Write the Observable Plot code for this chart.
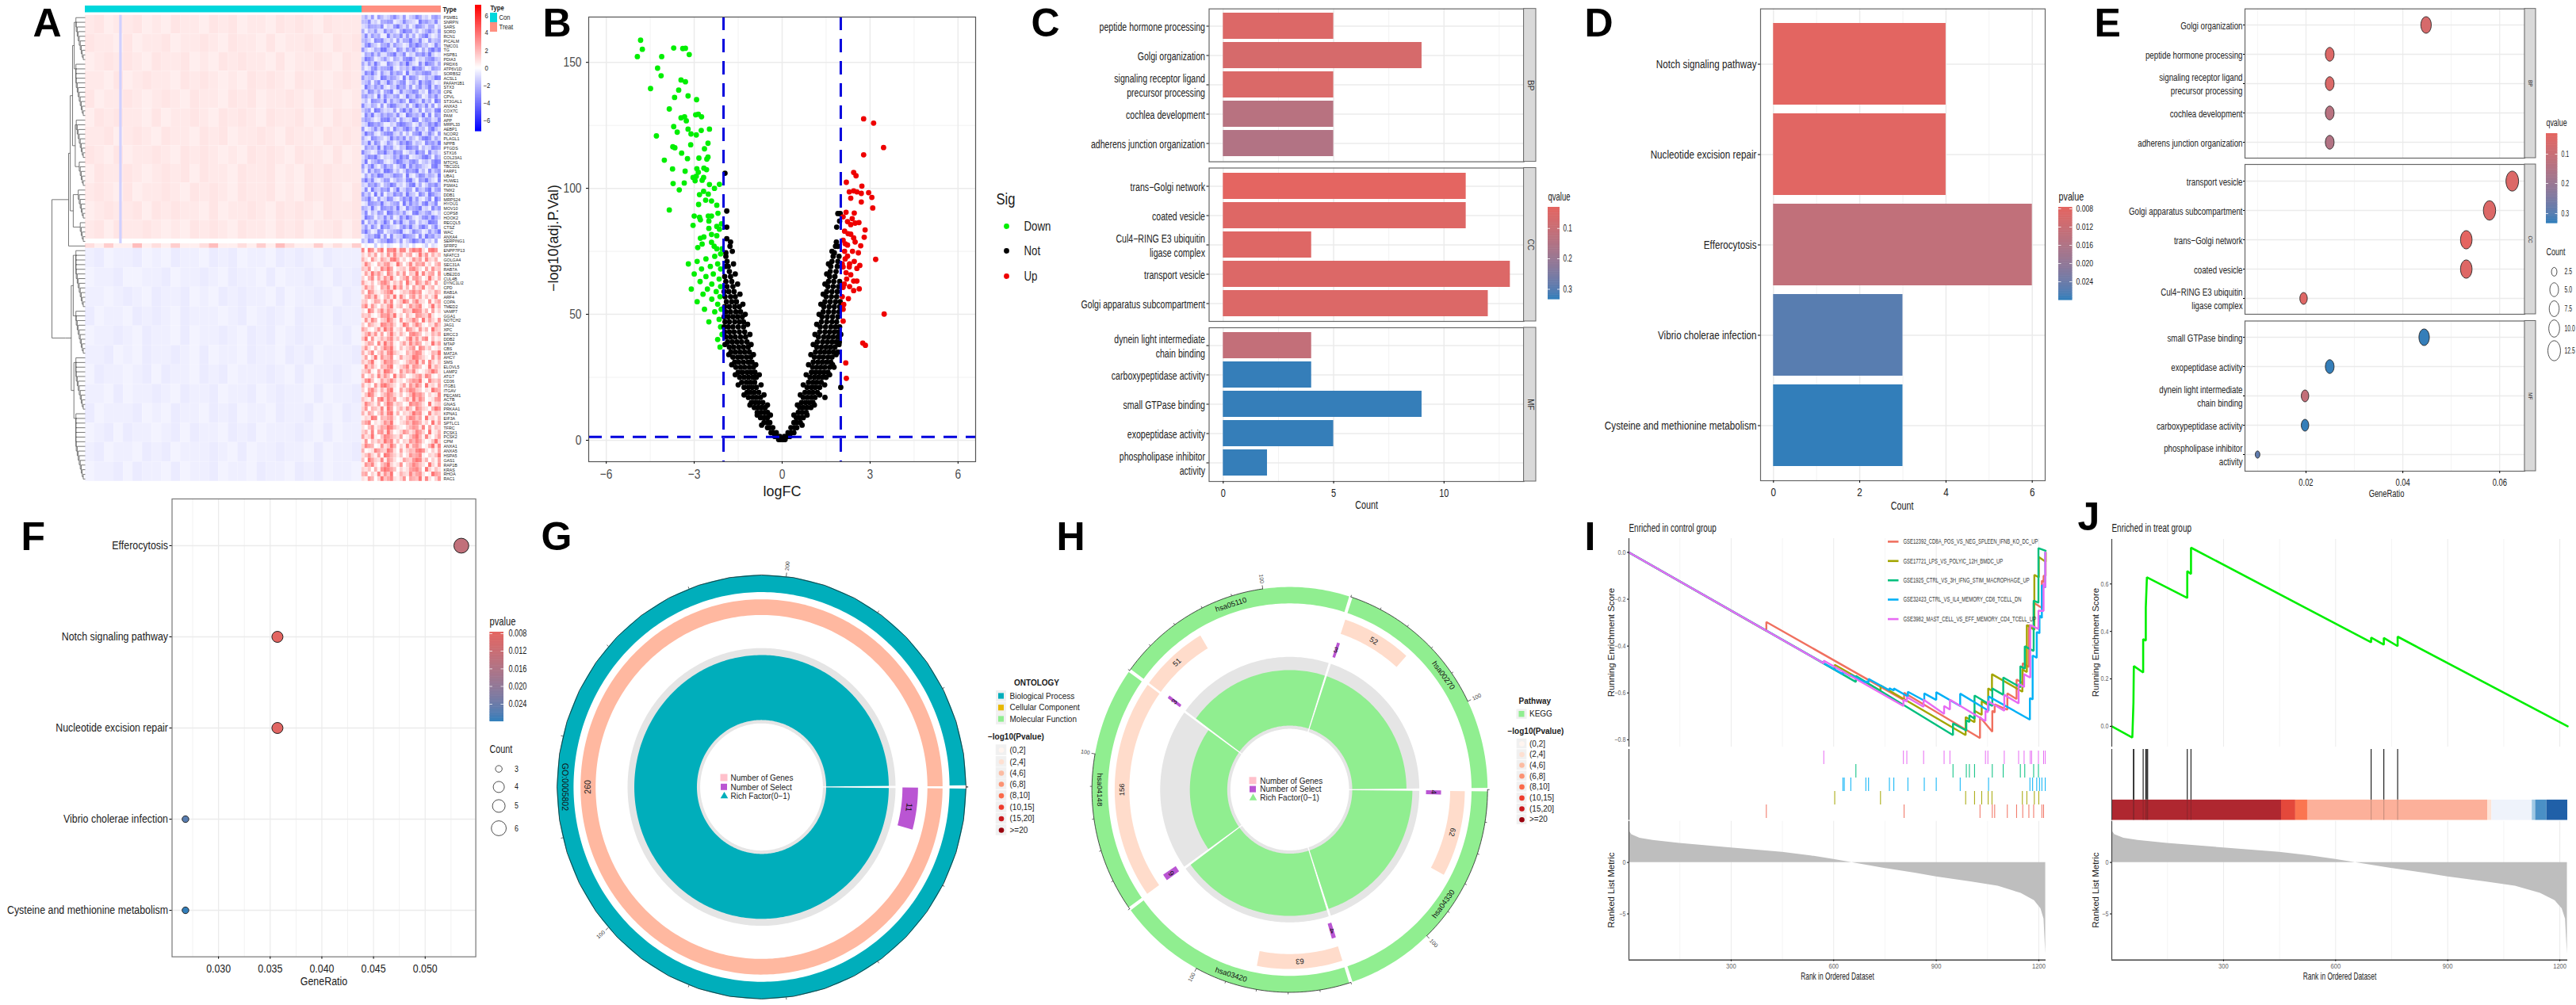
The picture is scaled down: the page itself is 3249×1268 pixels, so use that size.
<!DOCTYPE html>
<html><head><meta charset="utf-8">
<script src="https://cdn.jsdelivr.net/npm/d3@7"></script>
<script src="https://cdn.jsdelivr.net/npm/@observablehq/plot@0.6"></script>
<style>html,body{margin:0;background:#fff}#c{position:relative;width:3249px;height:1268px;overflow:hidden;background:#fff}#c svg{position:absolute;left:0;top:0}</style>
</head><body><div id="c"></div>
<script>
// ---------- DATA ----------
// NOTE: the first 50 gene labels were read (some uncertainly) from the picture; the last 49, after ENPP7P13, are
// illegible in the reference and are placeholder names, not readings.
const geneLabels=["PSMB1","SNRPN","SARS","SORD","RCN1","PICALM","TMCO1","TG","HSPB1","PDIA3","PRDX6","ATP6V1D","SORBS2","ACSL1","PAFAH1B1","STX3","CPE","CPVL","ST3GAL1","ANXA3","COX7C","PAM","APP","MRPL33","AEBP1","NCOR2","PLAGL1","NPPB","PTGDS","STX16","COL23A1","MTCH1","TBC1D1","FARP1","UBA1","HUWE1","PSMA1","TMX2","DDB1","MRPS24","HYOU1","MOV10","COPS8","HOOK2","RECQL5","CTSZ","WAC","ANXA4","SERPING1","SFRP2","ENPP7P13","NFATC3","GOLGA4","SEC31A","RAB7A","UBE2D3","CUL4B","DYNC1LI2","CPD","RAB1A","ARF4","COPA","TMED2","VAMP7","GGA1","NOTCH2","JAG1","XPC","ERCC3","DDB2","MTAP","CBS","MAT2A","AHCY","SMS","ELOVL5","LAMP2","ATG7","CD36","ITGB1","ITGAV","PECAM1","ACTB","GNAS","PRKAA1","KPNA1","EIF3A","SPTLC1","TFRC","PCSK1","PCSK2","CPM","ANXA1","ANXA5","HSPA5","GAS1","RAP1B","KRAS","RHOA","RAC1"];
const heatSamples=112, conSamples=87;
// NOTE: heatmap cells, the dendrogram and the dense black volcano points are hand-typed impressions of the texture
// and colour level, not cell-by-cell readings; individual cells cannot be resolved in the reference.
const treatTop=["3526164235742613475231564","4472315566123743218564372","2365547132684251376425513","5143622745315866241357426","3726451183547262514683125","4531767324162558437216345","2684315572643127586341274","6312548843175264731526857","1547362256834713265748312","3875124631542678413256743","5263841175326494217386525","4126735568214353867412654","2758416327465182354676231","6345218746531827641253487","3461572385246713528467312","1853647214385626147358264","4276351568127345762318546","5634182743561284375126473","2417653826347518642735186","7325416158743261485372614","3561874232615847326154278","1748236465372186453827165","4653127784516323871465237","2387564113268754126347585","6124738251743685273416842","3856214677325141568237416","5217643138464725314786253","4382751264137586243175648","1645382756214387561423765","7431265843756124385617342","2576841323648571234785164","3814576212587436751342687","6258314745136827465321784","4173652886241375682417356","1526487334765182147635428","5847213661354278316584217","3265741458623147825136574","2718436571482365174368256","6351827143756284317528643","4583162376214758362147185","1276548324561837452683471","5428317656382174568231746","3714265187453621784356213","2865143736127485213674853","7153624851748326514238761","3627418563215748326851472","5841276134568213754126358","1354782617234865417285634","4276135587426135864723150","0100302021003120200130210"];
const treatBottom=["8097169087928816979208970","3152604172835146029371524","5207316428951302746183250","2841053672194038265713046","4370218596023417852061734","1629473085162704391825607","3058162749203581674029315","6214037851426093185274061","2735106482937150624813502","4086213579102436857013264","1573820462918305726141380","3402651738024961583207146","5817304269135027468103925","2096148375201643987250613","4351027684913052176438201","1728503496207134850926317","3064218757302961485103274","6410372958124086317250943","2583716049315207864021536","4907125368240159372680412","1365082947103628475021936","3720514869204135708624013","5148036279421053687201549","2603917458016234985310726","4259103867320146592708314","1836205479013582764019253","3471062985107364820135962","6025183740926401357286103","2794016358412035769108435","5130728964203617485092316","3068415279106258743021965","1497203586314025967403128","4216079385701362948501267","2853160497243018675209134","3705428196035274186320597","5164037289150324967108243","1329805467203158746092315","4680213759102364875130926","2047136598421035762806143","3518067294013752486309125","6239104875326014795182036","1704253968140327586201493","3865017249503182674015928","5012864397206135489720316","2473160985314027568103249","4096328175201643798250316","1758204693127035864209317","3240517986403126785093142","5603182749015328467201965","2175039468213706549182037"];
const conTop=["56455645465546564554656546555","65546455645565465546455654656","45656546556454656554645565465","55464565546565454656546554565","64556545654655465645565465545","46565546455654656546556454656","55645654655465645565465546565","65464556546565454656546554645","46556545656465546556454656555","56546455654656546556454656546","45655646565546455654656546556","56465565454656546554656455646"];
const conBottom=["45344534354435453443545435444","34453344534454354435344543545","44345435445343545443534454354","53443545435444345345435443544","34454354435344543545345443453","44534354454353443544354534445","35443453544354534445435344543","44353445435445344534544353445","53444534354435453443544534354","34535443453544354534445435344","45344354534445435344544353445","34453544353445344354435453443"];
const streakCol=11, streakValue=-1.3;
const row49Con=[2,1,3,1,1,4,1,2,1,3,1,1,2,4,1,1,2,1,3,1,4,2,1,1,3,1,2,1,3];
const typeNames=["Con","Treat"];

const volDown=[[-4.83,158.8],[-4.77,155.2],[-4.94,152.3],[-4.11,152.3],[-3.7,155.7],[-3.39,155.5],[-3.3,155.6],[-3.17,153.1],[-4.25,147.7],[-4.13,144.7],[-3.45,143],[-3.3,142.3],[-4.49,139.6],[-3.53,139],[-3.67,136.1],[-3.21,136.7],[-2.92,135.2],[-3.85,131.5],[-3.45,128],[-3.33,128.4],[-2.95,129.2],[-2.86,129.4],[-2.75,128.4],[-3.27,126.8],[-3.7,124.5],[-3.58,122.3],[-3.21,123.5],[-2.76,123],[-2.48,123.5],[-4.29,120.8],[-3.11,121.6],[-2.93,121.2],[-3.12,117.3],[-2.53,117.9],[-3.73,116.5],[-3.66,116.1],[-2.65,115.7],[-3.43,114],[-2.84,112],[-2.53,112.4],[-2.57,111.6],[-3.23,111.8],[-4.02,111.2],[-3.74,107.7],[-2.91,107.8],[-2.67,108],[-2.58,107.4],[-3.31,106.8],[-2.86,106.4],[-2.93,104.8],[-3.04,104.3],[-2.68,104.3],[-2.73,103.2],[-2.97,103],[-3.72,101.9],[-3.34,102.1],[-2.48,101.5],[-2.14,101.6],[-2.31,100],[-3.51,99.4],[-2.68,98.8],[-2.82,97.5],[-2.52,97.7],[-2.61,95.3],[-2.41,95],[-3.85,91.4],[-2.85,93.6],[-2.23,93.3],[-2.19,90.1],[-3,89],[-2.82,88.5],[-2.52,89],[-2.41,89],[-2.79,87.5],[-3.04,85.3],[-2.5,87],[-2.07,85.9],[-2.23,84.9],[-2.5,84.1],[-2.14,83.8],[-2.67,80.7],[-2.79,80.2],[-2.41,81.7],[-2.23,81.2],[-2.41,78.6],[-2.73,77.9],[-2.32,77],[-2.88,76.5],[-2.23,76],[-2.05,76],[-2.1,74],[-2.3,73],[-2.6,72],[-2.9,71],[-3.2,70],[-2.2,70],[-2.45,69],[-2.75,68],[-2.1,68],[-2.35,66],[-2.6,65],[-3,66],[-2.15,64],[-2.8,63],[-2.4,62],[-2.1,61],[-2.55,60],[-3.1,60],[-2.25,59],[-2.7,58],[-2.12,57],[-2.4,56],[-2.9,55],[-2.65,52],[-2.2,54],[-2.08,52],[-2.3,51],[-2.15,48],[-2.5,47],[-2.1,45],[-2.05,42],[-2.2,40],[-2.12,37]];
const volUp=[[2.78,127.6],[3.12,125.9],[3.46,116.2],[2.78,113.3],[2.44,106.3],[2.52,105],[2.19,102.4],[2.72,100.9],[2.95,98.3],[3.06,96.4],[2.29,98.6],[2.44,99],[2.55,98.6],[2.7,98],[2.34,96.1],[2.7,94.6],[3.09,92.2],[2.18,90.5],[2.08,88.7],[2.46,90.2],[2.39,88],[2.23,86.8],[2.49,86.2],[2.62,86.4],[2.34,85.6],[2.83,83.5],[2.13,83],[2.34,81.8],[2.8,80.6],[2.44,80.3],[2.49,78.7],[2.08,79.4],[2.23,77.5],[2.68,77.2],[2.13,75],[2.6,74.4],[3.19,71.8],[2.23,73.1],[2.46,71],[2.65,69.4],[2.55,68.2],[2.29,68.8],[2.08,68.8],[2.18,66.5],[2.34,65.7],[2.44,63.2],[2.55,63.2],[2.63,60.1],[2.44,59.4],[2.08,60.7],[2.26,56.2],[2.1,53.9],[3.48,50.1],[2.08,52],[2.08,47.3],[2.75,38.6],[2.84,37.7],[2.17,30.7],[2.19,24.6],[2.05,70],[2.15,72],[2.3,70],[2.4,75],[2.12,62],[2.2,64],[2.3,61],[2.05,57],[2.15,78],[2.25,82]];
const volNotRows=[[0.3,-.12,-.05,.03,.1],[1.5,-.25,-.18,-.08,.08,.17,.26],[3,-.38,-.3,-.2,.2,.3,.4],[5,-.5,-.42,-.32,.3,.42,.5],[7,-.62,-.5,-.42,.4,.5,.62],[9,-.74,-.62,-.5,.48,.6,.72],[11,-.85,-.72,-.6,-.5,.55,.68,.82],[13,-.95,-.82,-.7,-.58,.6,.72,.85,.98],[15,-1.05,-.92,-.8,-.66,.66,.8,.93,1.05],[17,-1.15,-1,-.88,-.74,.72,.86,1,1.12,1.46],[19,-1.2,-1.08,-.95,-.8,.78,.92,1.05,1.2],[21,-1.3,-1.15,-1.02,-.88,.85,1,1.13,1.28,2],[23,-1.38,-1.22,-1.08,-.94,.9,1.05,1.18,1.33],[25,-1.45,-1.3,-1.15,-1,-.88,.95,1.1,1.24,1.38,1.5],[27,-1.5,-1.36,-1.2,-1.06,-.93,1,1.14,1.28,1.42,1.56],[29,-1.58,-1.42,-1.28,-1.12,-.98,1.04,1.18,1.32,1.46,1.62,1.77],[31,-1.62,-1.48,-1.32,-1.16,-1.03,1.06,1.22,1.37,1.52,1.66],[33,-1.68,-1.52,-1.38,-1.22,-1.07,1.1,1.26,1.4,1.56,1.7],[35,-1.75,-1.6,-1.44,-1.28,-1.12,1.14,1.3,1.45,1.6,1.75,1.9],[37,-1.8,-1.65,-1.48,-1.32,-1.16,1.18,1.34,1.5,1.65,1.8],[39,-1.86,-1.7,-1.54,-1.38,-1.2,1.2,1.38,1.54,1.7,1.85,1.95],[41,-1.92,-1.76,-1.6,-1.42,-1.25,1.24,1.42,1.58,1.74,1.9],[43,-1.96,-1.8,-1.64,-1.46,-1.28,1.28,1.46,1.62,1.78,1.92],[45,-1.98,-1.84,-1.68,-1.5,-1.32,1.3,1.48,1.66,1.82,1.96],[47,-1.95,-1.8,-1.62,-1.46,-1.32,1.34,1.52,1.7,1.86],[49,-1.98,-1.84,-1.68,-1.52,-1.36,1.36,1.54,1.72,1.9],[51,-1.92,-1.76,-1.58,-1.42,1.4,1.58,1.76,1.94],[53,-1.96,-1.8,-1.62,-1.46,1.42,1.6,1.78,1.96],[55,-1.9,-1.72,-1.56,1.46,1.64,1.82,1.98],[57,-1.95,-1.76,-1.6,1.5,1.68,1.86],[59,-1.98,-1.82,-1.64,1.52,1.7,1.88],[61,-1.88,-1.68,1.56,1.74,1.92],[63,-1.92,-1.72,1.58,1.76,1.96],[65,-1.96,-1.76,1.62,1.8],[67,-1.8,1.64,1.84],[69,-1.94,-1.84,1.66,1.88],[71,-1.88,1.7,1.9],[73,-1.92,1.74,1.94],[74.4,-1.92,1.78],[77,-1.78,1.82,1.9],[78.7,-1.76,1.85],[80,-1.89],[84.6,-1.89,1.86],[87,1.96],[90,1.9,1.98],[91,-1.89],[106,-1.95],
[6,-.7,.68],[10,-.85,-.4,.4,.85],[14,-1.1,-.5,.52,1.1],[18,-1.3,-.62,.62,1.28],[22,-1.5,-.72,.72,1.45],[26,-1.6,-.78,.82,1.62],[30,-1.72,-.9,.9,1.72],[34,-1.82,-.98,.98,1.84],[38,-1.95,-1.06,1.06,1.94],[42,-1.1,1.12,2],[46,-1.18,1.18],[50,-1.26,1.26],[54,-1.34,1.32],[58,-1.44,1.4],[62,-1.52,1.46],[66,-1.6,1.52],[70,-1.66,1.58],[75,-1.7,1.7]];

const cTermsBP=["peptide hormone processing","Golgi organization","signaling receptor ligand\nprecursor processing","cochlea development","adherens junction organization"];
const cCountBP=[5,9,5,5,5], cQBP=[.05,.065,.055,.135,.15];
const cTermsCC=["trans−Golgi network","coated vesicle","Cul4−RING E3 ubiquitin\nligase complex","transport vesicle","Golgi apparatus subcompartment"];
const cCountCC=[11,11,4,13,12], cQCC=[.03,.045,.045,.05,.05];
const cTermsMF=["dynein light intermediate\nchain binding","carboxypeptidase activity","small GTPase binding","exopeptidase activity","phospholipase inhibitor\nactivity"];
const cCountMF=[4,4,9,5,2], cQMF=[.11,.33,.33,.33,.33];
const facetNames=["BP","CC","MF"];

const kTerms=["Notch signaling pathway","Nucleotide excision repair","Efferocytosis","Vibrio cholerae infection","Cysteine and methionine metabolism"];
const kCount=[4,4,6,3,3], kP=[.0078,.0082,.0135,.0258,.028];

const eTermsBP=["Golgi organization","peptide hormone processing","signaling receptor ligand\nprecursor processing","cochlea development","adherens junction organization"];
const eRatioBP=[.0448,.0249,.0249,.0249,.0249], eCountBP=[9,5,5,5,5], eQBP=[.065,.05,.055,.135,.15];
const eTermsCC=["transport vesicle","Golgi apparatus subcompartment","trans−Golgi network","coated vesicle","Cul4−RING E3 ubiquitin\nligase complex"];
const eRatioCC=[.0626,.0579,.0531,.0531,.0195], eCountCC=[13,12,11,11,4], eQCC=[.05,.05,.03,.045,.045];
const eTermsMF=["small GTPase binding","exopeptidase activity","dynein light intermediate\nchain binding","carboxypeptidase activity","phospholipase inhibitor\nactivity"];
const eRatioMF=[.0444,.0249,.0198,.0198,.01], eCountMF=[9,5,4,4,2], eQMF=[.33,.33,.11,.33,.29];
const eCountRadius=[[2.5,5.5],[5,8.7],[7.5,9.9],[10,10.8],[12.5,12.6]];

const fTerms=["Efferocytosis","Notch signaling pathway","Nucleotide excision repair","Vibrio cholerae infection","Cysteine and methionine metabolism"];
const fRatio=[.0535,.0357,.0357,.0268,.0268], fP=[.0135,.0078,.0082,.0258,.028], fCount=[6,4,4,3,3];
const fCountRadius=[[3,4.2],[4,7],[5,8],[6,9.4]];

const goTerms=["GO:0005802"], goGenes=[260], goSelect=[11], goRich=[.622];
const keggTerms=["hsa04330","hsa03420","hsa04148","hsa05110","hsa00270"], keggGenes=[62,63,156,51,52], keggSelect=[4,4,6,3,3], keggRich=[.62,.623,.505,.59,.59];
const ontologyNames=["Biological Process","Cellular Component","Molecular Function"], ontologyColors=["#00AEBB","#E7B800","#90EE90"];
const pBins=["(0,2]","(2,4]","(4,6]","(6,8]","(8,10]","(10,15]","(15,20]",">=20"], pColors=["#FFF5F0","#FEE0D2","#FCBBA1","#FC9272","#FB6A4A","#EF3B2C","#CB181D","#99000D"];
const centerItems=["Number of Genes","Number of Select","Rich Factor(0−1)"];

const gseaNames=["GSE12392_CD8A_POS_VS_NEG_SPLEEN_IFNB_KO_DC_UP","GSE17721_LPS_VS_POLYIC_12H_BMDC_UP","GSE1925_CTRL_VS_3H_IFNG_STIM_MACROPHAGE_UP","GSE32423_CTRL_VS_IL4_MEMORY_CD8_TCELL_DN","GSE3982_MAST_CELL_VS_EFF_MEMORY_CD4_TCELL_UP"];
const gseaColors=["#F0705F","#A3A500","#00BF7D","#00B0F6","#E76BF3"];
const curveRed=[[1,0],[403,-.335],[403,-.297],[806,-.631],[806,-.599],[1028,-.793],[1028,-.703],[1064,-.766],[1064,-.676],[1071,-.684],[1071,-.649],[1108,-.672],[1108,-.602],[1135,-.626],[1135,-.543],[1153,-.558],[1153,-.473],[1171,-.489],[1171,-.31],[1185,-.321],[1185,-.215],[1209,-.237],[1209,-.12],[1214,-.127],[1214,-.1],[1220,-.1],[1220,0]];
const curveOlive=[[1,0],[603,-.5],[603,-.48],[737,-.591],[737,-.568],[986,-.78],[986,-.703],[1012,-.725],[1012,-.676],[1033,-.694],[1033,-.635],[1052,-.652],[1052,-.581],[1063,-.591],[1063,-.52],[1152,-.595],[1152,-.5],[1165,-.511],[1165,-.31],[1187,-.331],[1187,-.096],[1200,-.107],[1200,-.02],[1220,-.04],[1220,0]];
const curveGreen=[[1,0],[665,-.553],[665,-.527],[949,-.78],[949,-.73],[988,-.761],[988,-.717],[997,-.724],[997,-.696],[1012,-.71],[1012,-.611],[1064,-.656],[1064,-.581],[1096,-.608],[1096,-.534],[1146,-.576],[1146,-.486],[1159,-.497],[1159,-.401],[1185,-.421],[1185,-.206],[1199,-.215],[1199,.018],[1220,.007]];
const curveBlue=[[1,0],[627,-.52],[627,-.51],[650,-.529],[650,-.522],[694,-.557],[694,-.55],[702,-.556],[702,-.54],[763,-.589],[763,-.58],[776,-.59],[776,-.581],[817,-.615],[817,-.595],[865,-.633],[865,-.602],[900,-.63],[900,-.597],[970,-.656],[970,-.603],[1053,-.676],[1053,-.615],[1174,-.714],[1174,-.622],[1182,-.628],[1182,-.44],[1194,-.45],[1194,-.34],[1202,-.345],[1202,-.27],[1209,-.28],[1209,-.14],[1219,-.15],[1219,0]];
const curvePurple=[[1,0],[571,-.474],[571,-.462],[804,-.656],[804,-.629],[814,-.637],[814,-.618],[863,-.659],[863,-.629],[923,-.69],[923,-.656],[940,-.671],[940,-.629],[1044,-.72],[1044,-.676],[1051,-.683],[1051,-.635],[1099,-.676],[1099,-.608],[1141,-.645],[1141,-.561],[1157,-.575],[1157,-.52],[1175,-.535],[1175,-.31],[1199,-.327],[1199,-.249],[1214,-.25],[1214,-.13],[1219,-.15],[1219,0]];
const hitsRed=[403,806,1028,1064,1071,1108,1135,1153,1171,1185,1209,1214];
const hitsOlive=[603,737,986,1012,1033,1052,1063,1152,1165,1187,1200];
const hitsBlue=[627,631,650,694,702,763,776,817,865,900,970,1053,1174,1182,1194,1202,1209,1219];
const hitsGreen=[665,949,988,997,1012,1064,1096,1146,1159,1185,1199];
const hitsPurple=[571,804,814,863,923,940,1044,1051,1099,1141,1157,1175,1179,1199,1214,1219];
const rankX=[1,9,33,71,149,300,450,533,600,653,745,841,900,1004,1081,1148,1187,1206,1215,1220];
const rankMetric=[3.1,2.7,2.35,2.15,1.85,1.42,1,.65,.3,0,-.55,-1.05,-1.4,-1.9,-2.3,-3,-3.7,-4.5,-5.5,-8.9];
const curveJ=[[1,0],[56,-.047],[59,.1],[60,.254],[85,.227],[85,.368],[92,.361],[92,.5],[95,.628],[203,.541],[203,.654],[213,.642],[213,.753],[695,.354],[695,.374],[729,.344],[729,.373],[766,.338],[766,.378],[1221,0]];
const hitsJ=[59,60,85,92,95,97,203,213,695,729,766];
const jBandEnds=[1,455,493,525,1007,1018,1126,1135,1165,1221];
const jBandColors=["#AF2730","#E4483B","#FB7550","#FCB09A","#FEE3D6","#EFF3FB","#9FC8E4","#4A90C6","#2060A8"];

// ---------- HELPERS ----------
const W=3249,H=1268,root=document.getElementById("c");
const N=k=>`"Liberation Sans","k${Math.round(k*100)}"`,SANS='"Liberation Sans",sans-serif';
function panel(rect,{k=.8,...o}){const [l,t,r,b]=rect;root.append(Plot.plot({width:W,height:H,marginLeft:l,marginTop:t,marginRight:W-r,marginBottom:H-b,style:{background:"transparent",fontFamily:N(k)},...o}));}
const T=(x,y,t,{k=.8,...o}={})=>Plot.text([{x,y,t}],{x:"x",y:"y",text:"t",textAnchor:"start",fontFamily:N(k),fontSize:13,fill:"#1a1a1a",...o});
const R=(x1,y1,x2,y2,fill,o={})=>Plot.rect([0],{x1:()=>x1,x2:()=>x2,y1:()=>y1,y2:()=>y2,fill:()=>fill,...o});
const lab=(a,b)=>d3.interpolateLab(a,b);
const RED="#E46561",BLUE="#327EBA";
const qColor={type:"linear",domain:[.03,.332],range:[RED,BLUE],interpolate:d3.interpolateLab};
const pColor={type:"linear",domain:[.0077,.028],range:[RED,BLUE],interpolate:d3.interpolateLab};
const page=[];
function cbar(x0,x1,y0,y1,f,ticks){const n=80,s=d3.range(n).map(i=>({y1:y0+(y1-y0)*i/n,y2:y0+(y1-y0)*(i+1)/n+.6,c:f(i/(n-1))}));
  page.push(Plot.rect(s,{x1:()=>x0,x2:()=>x1,y1:"y1",y2:"y2",fill:"c"}));
  const w=(x1-x0)/5;(ticks||[]).forEach(y=>{page.push(Plot.ruleY([y],{x1:x0,x2:x0+w,stroke:"#fff",strokeWidth:.8}),Plot.ruleY([y],{x1:x1-w,x2:x1,stroke:"#fff",strokeWidth:.8}));});}
const GRID="#EBEBEB",GRID2="#F2F2F2";
const ellipse={draw(c,size){const r=Math.sqrt(size/Math.PI),a=r*.63,b=r,q=.5523;c.moveTo(a,0);c.bezierCurveTo(a,q*b,q*a,b,0,b);c.bezierCurveTo(-q*a,b,-a,q*b,-a,0);c.bezierCurveTo(-a,-q*b,-q*a,-b,0,-b);c.bezierCurveTo(q*a,-b,a,-q*b,a,0);c.closePath();}};

// ---------- A: HEATMAP ----------
(function(){
 const cells=[];
 const add=(x1,x2,y1,y2,v)=>cells.push({x1,x2,y1,y2,v});
 conTop.forEach((s,j)=>[...s].forEach((ch,i)=>add(i*3,i*3+3,j*4,j*4+4,+ch*.12)));
 row49Con.forEach((d,i)=>add(i*3,i*3+3,49,50,d*.45));
 conBottom.forEach((s,j)=>[...s].forEach((ch,i)=>add(i*3,i*3+3,50+j*4.1667,50+(j+1)*4.1667,-ch*.11)));
 add(streakCol-.2,streakCol+.6,0,49,streakValue);
 treatTop.forEach((s,j)=>[...s].forEach((ch,i)=>add(conSamples+i,conSamples+i+1,j,j+1,-ch*.46)));
 treatBottom.forEach((s,j)=>[...s].forEach((ch,i)=>add(conSamples+i,conSamples+i+1,50+j,51+j,ch*.42)));
 panel([107,18.8,556,606.8],{k:.85,x:{domain:[0,heatSamples],axis:null},y:{domain:[0,100],axis:null,reverse:true},
  color:{type:"linear",domain:[-7,0,7],range:["#0000ff","#ffffff","#ff0000"]},
  marks:[Plot.rect(cells,{x1:"x1",x2:"x2",y1:"y1",y2:"y2",fill:"v"}),
   Plot.text(geneLabels,{x:()=>heatSamples,y:(d,i)=>i+.5,text:d=>d,dx:3,textAnchor:"start",fontSize:6.2,fill:"#222"})]});
 // dendrogram
 const segs=[];let row=0;
 const comb=n=>{if(n===1)return row++ +.5;let ys=[];for(let i=0;i<n;i++)ys.push(row++ +.5);let cur=ys[n-1],h=.06;for(let i=n-2;i>=0;i--){segs.push([h,ys[i],0,ys[i]]);if(i===n-2)segs.push([h,cur,0,cur]);else segs.push([h,cur,h-.03,cur]);segs.push([h,ys[i],h,cur]);cur=(ys[i]+cur)/2;h+=.03;if(h>.28)h=.28;}
   comb.h=h-.03;return cur;};
 const build=t=>{if(typeof t==="number"){const y=comb(t);return{y,h:t===1?0:comb.h};}
   const [h,...kids]=t;const res=kids.map(build);res.forEach(r=>segs.push([h,r.y,r.h,r.y]));segs.push([h,res[0].y,h,res[res.length-1].y]);return{y:(res[0].y+res[res.length-1].y)/2,h};};
 const treeTop=[.5,[.45,[.38,[.33,10,12],[.3,9,6]],[.36,7,5]],1];
 const treeBottom=[.59,[.42,[.36,13,10],[.34,12,15]]];
 build([1,treeTop,treeBottom]);
 panel([65,18.8,107,606.8],{x:{domain:[1,0],axis:null},y:{domain:[0,100],axis:null,reverse:true},
  marks:[Plot.link(segs,{x1:d=>d[0],y1:d=>d[1],x2:d=>d[2],y2:d=>d[3],stroke:"#555",strokeWidth:.8})]});
 page.push(R(107,7,456,15.5,"#00D7DC"),R(456,7,556,15.5,"#FF8F80"));
 page.push(T(558,12,"Type",{fontSize:9,fontWeight:"bold",k:.85}));
 cbar(599,607,6,165,t=>t<.5?d3.interpolateRgb("#ff0000","#ffffff")(t*2):d3.interpolateRgb("#ffffff","#0000ff")((t-.5)*2));
 [[6,20],[4,41],[2,64],[0,86],[-2,108],[-4,130],[-6,152]].forEach(([v,y])=>page.push(T(v<0?609:611,y,(v<0?"−":"")+Math.abs(v),{fontSize:9,k:.85})));
 page.push(T(618,10,"Type",{fontSize:9,fontWeight:"bold",k:.85}));
 page.push(R(618,16,627,28,"#00D7DC"),R(618,28,627,40,"#FF8F80"));
 page.push(T(629,22,typeNames[0],{fontSize:9,k:.85}),T(629,34,typeNames[1],{fontSize:9,k:.85}));
})();

// ---------- B: VOLCANO ----------
(function(){
 const not=volNotRows.flatMap(([y,...xs])=>xs.map(x=>[x,y]));
 panel([742,21,1230,582],{k:.81,x:{domain:[-6.6,6.6],axis:null},y:{domain:[-8.5,168],axis:null},marks:[
  Plot.gridX({ticks:[-4.5,-1.5,1.5,4.5],stroke:GRID2,strokeOpacity:1,strokeWidth:1}),
  Plot.gridY({ticks:[25,75,125],stroke:GRID2,strokeOpacity:1,strokeWidth:1}),
  Plot.gridX({ticks:[-6,-3,0,3,6],stroke:GRID,strokeOpacity:1,strokeWidth:1.5}),
  Plot.gridY({ticks:[0,50,100,150],stroke:GRID,strokeOpacity:1,strokeWidth:1.5}),
  Plot.dot(volDown,{x:d=>d[0],y:d=>d[1],r:3.4,fill:"#00EE00"}),
  Plot.dot(not,{x:d=>d[0],y:d=>d[1],r:3.4,fill:"#000"}),
  Plot.dot(volUp,{x:d=>d[0],y:d=>d[1],r:3.4,fill:"#EE0000"}),
  Plot.ruleX([-2,2],{stroke:"#0000DD",strokeWidth:3,strokeDasharray:"17,11"}),
  Plot.ruleY([1.3],{stroke:"#0000DD",strokeWidth:3,strokeDasharray:"17,11"}),
  Plot.frame({stroke:"#555",strokeWidth:1.2}),
  Plot.axisX({ticks:[-6,-3,0,3,6],tickFormat:d=>d<0?"−"+(-d):String(d),tickSize:3,fontSize:17,fill:"#4d4d4d",label:null}),
  Plot.axisY({ticks:[0,50,100,150],tickFormat:d=>String(d),tickSize:3,fontSize:17,fill:"#4d4d4d",label:null})]});
 page.push(T(986,620,"logFC",{fontSize:18,fontFamily:SANS,textAnchor:"middle"}));
 page.push(T(698,300,"−log10(adj.P.Val)",{fontSize:18,fontFamily:SANS,textAnchor:"middle",rotate:-90}));
 page.push(T(1256,251,"Sig",{fontSize:20,k:.83}));
 [["Down","#00EE00",285],["Not","#000",316],["Up","#EE0000",348]].forEach(([t,c,y])=>{page.push(Plot.dot([0],{x:()=>1269,y:()=>y,r:3.4,fill:()=>c}),T(1291,y,t,{fontSize:16,k:.83}));});
})();

// ---------- C: BAR FACETS ----------
(function(){
 const cx=[-.64,13.62];
 [[cTermsBP,cCountBP,cQBP,10.7,203.6],[cTermsCC,cCountCC,cQCC,211.5,405],[cTermsMF,cCountMF,cQMF,413,607]].forEach(([t,c,q,y0,y1],i2)=>{
  const rows=t.map((d,i)=>({t:d,c:c[i],q:q[i]}));
  panel([1524.5,y0,1921.6,y1],{k:.73,x:{domain:cx,axis:null},y:{domain:t,axis:null,paddingInner:.1,paddingOuter:.15},color:qColor,marks:[
   Plot.gridX({ticks:[2.5,7.5,12.5],stroke:GRID2,strokeOpacity:1,strokeWidth:1}),
   Plot.gridX({ticks:[0,5,10],stroke:GRID,strokeOpacity:1,strokeWidth:1.5}),
   Plot.gridY({stroke:GRID,strokeOpacity:1,strokeWidth:1.5}),
   Plot.barX(rows,{x:"c",y:"t",fill:"q"}),
   Plot.frame({stroke:"#666",strokeWidth:1.2}),
   Plot.axisY({tickSize:3,tickPadding:2,fontSize:14.5,fill:"#222",lineHeight:1.25,label:null}),
   ...(i2===2?[Plot.axisX({ticks:[0,5,10],tickFormat:d=>String(d),tickSize:3,fontSize:15,fill:"#222",label:null})]:[])]});
  page.push(R(1921.6,y0,1937,y1,"#D9D9D9",{stroke:"#666",strokeWidth:1}));
  page.push(T(1929.3,(y0+y1)/2,facetNames[i2],{fontSize:10,fontFamily:SANS,textAnchor:"middle",rotate:90,fill:"#333"}));
 });
 page.push(T(1723,637,"Count",{fontSize:14,textAnchor:"middle",k:.77}));
 page.push(T(1952,248,"qvalue",{fontSize:14,k:.68}));
 cbar(1952,1967,261,377,t=>lab(RED,BLUE)(t),[287.8,326,364.5]);
 [["0.1",287.8],["0.2",326],["0.3",364.5]].forEach(([s,y])=>page.push(T(1971,y,s,{fontSize:12,k:.68})));
})();

// ---------- D: BAR ----------
(function(){
 const rows=kTerms.map((t,i)=>({t,c:kCount[i],p:kP[i]}));
 panel([2220,10.7,2579,606],{k:.78,x:{domain:[-.3,6.3],axis:null},y:{domain:kTerms,axis:null,paddingInner:.1,paddingOuter:.15},color:pColor,marks:[
  Plot.gridX({ticks:[1,3,5],stroke:GRID2,strokeOpacity:1,strokeWidth:1}),
  Plot.gridX({ticks:[0,2,4,6],stroke:GRID,strokeOpacity:1,strokeWidth:1.5}),
  Plot.gridY({stroke:GRID,strokeOpacity:1,strokeWidth:1.5}),
  Plot.barX(rows,{x:"c",y:"t",fill:"p"}),
  Plot.frame({stroke:"#666",strokeWidth:1.2}),
  Plot.axisY({tickSize:3,tickPadding:2,fontSize:15,fill:"#222",label:null}),
  Plot.axisX({ticks:[0,2,4,6],tickFormat:d=>String(d),tickSize:3,fontSize:15,fill:"#222",label:null})]});
 page.push(T(2398.6,638,"Count",{fontSize:14,textAnchor:"middle",k:.77}));
 page.push(T(2596,248,"pvalue",{fontSize:14,k:.77}));
 cbar(2596,2613.5,261,378,t=>lab(RED,BLUE)(t),[263,286,309,332,355]);
 [["0.008",263],["0.012",286],["0.016",309],["0.020",332],["0.024",355]].forEach(([s,y])=>page.push(T(2618,y,s,{fontSize:11.5,k:.75})));
})();

// ---------- E: DOT FACETS ----------
(function(){
 const ex=[.0074,.0652];
 const rad=c=>{const a=eCountRadius;if(c<2.5)return 4.6;for(let i=1;i<a.length;i++)if(c<=a[i][0])return a[i-1][1]+(a[i][1]-a[i-1][1])*(c-a[i-1][0])/(a[i][0]-a[i-1][0]);return a[a.length-1][1];};
 [[eTermsBP,eRatioBP,eCountBP,eQBP,10.7,199],[eTermsCC,eRatioCC,eCountCC,eQCC,207,396],[eTermsMF,eRatioMF,eCountMF,eQMF,404.5,594]].forEach(([t,x,c,q,y0,y1],i2)=>{
  const rows=t.map((d,i)=>({t:d,x:x[i],r:rad(c[i]),q:q[i]}));
  panel([2831,y0,3184,y1],{k:.72,x:{domain:ex,axis:null},y:{domain:t,axis:null,paddingInner:.1,paddingOuter:.15},color:qColor,r:{type:"identity"},marks:[
   Plot.gridX({ticks:[.01,.03,.05],stroke:GRID2,strokeOpacity:1,strokeWidth:.8}),
   Plot.gridX({ticks:[.02,.04,.06],stroke:GRID,strokeOpacity:1,strokeWidth:1.2}),
   Plot.gridY({stroke:GRID,strokeOpacity:1,strokeWidth:1.5}),
   Plot.dot(rows,{x:"x",y:"t",r:"r",symbol:ellipse,fill:"q",stroke:"#222",strokeWidth:.9}),
   Plot.frame({stroke:"#666",strokeWidth:1.2}),
   Plot.axisY({tickSize:2,tickPadding:1,fontSize:13.5,fill:"#222",lineHeight:1.25,label:null}),
   ...(i2===2?[Plot.axisX({ticks:[.02,.04,.06],tickFormat:d3.format(".2f"),tickSize:3,fontSize:13,fill:"#222",label:null})]:[])]});
  page.push(R(3184,y0,3198,y1,"#D9D9D9",{stroke:"#666",strokeWidth:1}));
  page.push(T(3191,(y0+y1)/2,facetNames[i2],{fontSize:8,textAnchor:"middle",rotate:90,fill:"#333"}));
 });
 page.push(T(3009.5,622,"GeneRatio",{fontSize:13,textAnchor:"middle",k:.72}));
 page.push(T(3211,154,"qvalue",{fontSize:12.5,k:.71}));
 cbar(3211,3225.4,168,281,t=>lab(RED,BLUE)(t),[194,231,269]);
 [["0.1",194],["0.2",231],["0.3",269]].forEach(([s,y])=>page.push(T(3230,y,s,{fontSize:10,k:.7})));
 page.push(T(3211,317,"Count",{fontSize:12.5,k:.72}));
 const ys=[342.4,365,389,414,442];
 eCountRadius.forEach(([c,r],i)=>page.push(Plot.dot([0],{x:()=>3221,y:()=>ys[i],r:()=>r,symbol:ellipse,fill:"#fff",stroke:"#222",strokeWidth:.8}),T(3234,ys[i],c.toFixed(1),{fontSize:10,k:.68})));
})();

// ---------- F: DOT ----------
(function(){
 const rad=c=>fCountRadius.find(d=>d[0]===c)[1];
 const rows=fTerms.map((t,i)=>({t,x:fRatio[i],r:rad(fCount[i]),p:fP[i]}));
 panel([216.5,629,599.6,1206.7],{k:.8,x:{domain:[.0255,.0549],axis:null},y:{domain:fTerms,axis:null,paddingInner:.1,paddingOuter:.15},color:pColor,r:{type:"identity"},marks:[
  Plot.gridX({ticks:[.0275,.0325,.0375,.0425,.0475,.0525],stroke:GRID2,strokeOpacity:1,strokeWidth:1}),
  Plot.gridX({ticks:[.03,.035,.04,.045,.05],stroke:GRID,strokeOpacity:1,strokeWidth:1.2}),
  Plot.gridY({stroke:GRID,strokeOpacity:1,strokeWidth:1.5}),
  Plot.dot(rows,{x:"x",y:"t",r:"r",fill:"p",stroke:"#222",strokeWidth:1}),
  Plot.frame({stroke:"#777",strokeWidth:1.2}),
  Plot.axisY({tickSize:3,tickPadding:2,fontSize:15.5,fill:"#222",label:null}),
  Plot.axisX({ticks:[.03,.035,.04,.045,.05],tickFormat:d3.format(".3f"),tickSize:3,fontSize:15.5,fill:"#222",label:null})]});
 page.push(T(408,1237.5,"GeneRatio",{fontSize:15,textAnchor:"middle",k:.83}));
 page.push(T(617,784,"pvalue",{fontSize:14}));
 cbar(617.4,635,797,909.5,t=>lab(RED,BLUE)(t),[799,821,843.4,865.5,888]);
 [["0.008",799],["0.012",821],["0.016",843.4],["0.020",865.5],["0.024",888]].forEach(([s,y])=>page.push(T(641,y,s,{fontSize:12,k:.76})));
 page.push(T(617,945,"Count",{fontSize:14,k:.77}));
 const ys=[969.6,992.4,1016.4,1044.5];
 fCountRadius.forEach(([c,r],i)=>page.push(Plot.dot([0],{x:()=>628.6,y:()=>ys[i],r:()=>r,fill:"#fff",stroke:"#222",strokeWidth:.8}),T(648.6,ys[i],String(c),{fontSize:11,k:.8})));
})();

// ---------- G, H: CIRCOS ----------
function arc(a0,a1,r0,r1){const n=Math.max(2,Math.ceil(Math.abs(a1-a0))),p=[];for(let i=0;i<=n;i++){const a=(a0+(a1-a0)*i/n)*Math.PI/180;p.push({x:r1*Math.cos(a),y:r1*Math.sin(a)});}for(let i=n;i>=0;i--){const a=(a0+(a1-a0)*i/n)*Math.PI/180;p.push({x:r0*Math.cos(a),y:r0*Math.sin(a)});}return p;}
const ringFill=(p,c)=>Plot.line(p,{x:"x",y:"y",fill:c,stroke:"none",curve:"linear"});
const polar=(a,r)=>({x:r*Math.cos(a*Math.PI/180),y:r*Math.sin(a*Math.PI/180)});
function circos(cx,cy,rx,ry,terms,genes,select,rich,col,geneCol,axisTo,labelEvery,gap,fs){
 const n=terms.length,span=360/n,maxG=Math.max(...genes),deg=span/maxG,m=[];
 terms.forEach((t,i)=>{const a=i*span;
  m.push(ringFill(arc(a+gap,a+span-gap,.919,1),col));
  m.push(ringFill(arc(a+gap,a+genes[i]*deg-gap*.5,.811,.885),geneCol));
  m.push(ringFill(arc(a+gap*.5,a+select[i]*deg,.689,.765),"#BA55D3"));
  m.push(ringFill(arc(a+gap,a+span-gap,.3,.655),"#E5E5E5"));
  m.push(ringFill(arc(a+gap,a+span-gap,.316,rich[i]),col));
  const top=axisTo(genes[i]),aP=d3.range(0,top+.01,top/40).map(v=>polar(a+v*deg,1));
  m.push(Plot.line(aP,{x:"x",y:"y",stroke:"#222",strokeWidth:.8}));
  const ticks=d3.range(0,top+.01,20).map(v=>({v,p:polar(a+v*deg,1),q:polar(a+v*deg,v%labelEvery===0&&v>0?1.018:1.01)}));
  m.push(Plot.link(ticks,{x1:d=>d.p.x,y1:d=>d.p.y,x2:d=>d.q.x,y2:d=>d.q.y,stroke:"#222",strokeWidth:.7}));
  ticks.filter(d=>d.v%labelEvery===0&&d.v>0).forEach(d=>{const th=a+d.v*deg,p=polar(th,1.05),c=Math.cos(th*Math.PI/180);
    m.push(Plot.text([p],{x:"x",y:"y",text:()=>String(d.v),rotate:c>=0?th:th-180,fontSize:7,fill:"#444",fontFamily:SANS}));});
  const mid=a+span/2,pl=polar(mid,.96);
  const rotL=(mid>0&&mid<180)?mid+90-180:(mid===180?90:mid+90);
  m.push(Plot.text([pl],{x:"x",y:"y",text:()=>t,rotate:rotL,fontSize:fs,fontFamily:SANS,fill:"#111"}));
  const gm=a+genes[i]*deg/2,pg=polar(gm,.848);
  m.push(Plot.text([pg],{x:"x",y:"y",text:()=>String(genes[i]),rotate:gm+90,fontSize:fs,fontFamily:SANS,fill:"#222"}));
  const sm=a+select[i]*deg/2,ps=polar(sm,.727);
  m.push(Plot.text([ps],{x:"x",y:"y",text:()=>String(select[i]),rotate:sm+90,fontSize:fs,fontFamily:SANS,fill:"#111"}));
 });
 panel([cx-rx,cy-ry,cx+rx,cy+ry],{x:{domain:[-1,1],axis:null},y:{domain:[-1,1],axis:null,reverse:true},marks:m});
}
circos(960,992.4,258,267.5,goTerms,goGenes,goSelect,goRich,"#00AEBB","#FFB8A0",g=>g,100,.45,10.5);
circos(1626.2,995.8,249.5,255.7,keggTerms,keggGenes,keggSelect,keggRich,"#90EE90","#FFDCCB",g=>100,100,.5,9.5);
function center(sx,tx,ys,richCol){
 page.push(R(sx-4.5,ys[0]-4.5,sx+4.5,ys[0]+4.5,"#FFC0CB"),R(sx-4,ys[1]-4,sx+4,ys[1]+4,"#BA55D3"));
 page.push(Plot.dot([0],{x:()=>sx,y:()=>ys[2],symbol:"triangle2",r:4.6,fill:()=>richCol}));
 centerItems.forEach((t,i)=>page.push(T(tx,ys[i],t,{fontSize:10,fontFamily:SANS,fill:"#222"})));
}
center(913,921,[981,992.8,1004],"#00AEBB");
center(1580,1588.7,[984.8,995.6,1006.4],"#90EE90");
function keyPanel(sx,tx2,ys2,bgw){
 ys2.forEach((y,i)=>{page.push(R(sx-bgw,y-bgw,sx+bgw,y+bgw,"#F0F0F0"),Plot.dot([0],{x:()=>sx,y:()=>y,r:3.3,fill:()=>pColors[i]}),T(tx2,y,pBins[i],{fontSize:10,fontFamily:SANS,fill:"#222"}));});
}
page.push(T(1307,861.5,"ONTOLOGY",{fontSize:10,fontFamily:SANS,fontWeight:"bold",textAnchor:"middle"}));
ontologyNames.forEach((t,i)=>{const y=[878,892.7,907][i];page.push(R(1256,y-7,1269,y+7,"#F0F0F0"),R(1259,y-3.6,1266,y+3.6,ontologyColors[i]),T(1273,y,t,{fontSize:10,fontFamily:SANS,fill:"#222"}));});
page.push(T(1245.5,929.5,"−log10(Pvalue)",{fontSize:10,fontFamily:SANS,fontWeight:"bold"}));
keyPanel(1262.5,1273,[946,960.8,975,989,1003.6,1018,1032.5,1047],6.8);
page.push(T(1915,884.7,"Pathway",{fontSize:10,fontFamily:SANS,fontWeight:"bold"}));
page.push(R(1912.5,894.5,1925.5,907,"#F0F0F0"),R(1915.5,897,1922.5,904.5,"#90EE90"),T(1928.5,900.7,"KEGG",{fontSize:10,fontFamily:SANS,fill:"#222"}));
page.push(T(1901,922,"−log10(Pvalue)",{fontSize:10,fontFamily:SANS,fontWeight:"bold"}));
keyPanel(1919,1928.5,[938,951.6,965,978.8,992.4,1006.4,1020,1033.7],6.3);

// ---------- I, J: GSEA ----------
function gseaPanels(l,r,ylabX,title,xlabX,topY0,topY1,topDom,topTicks,topMarks,midMarks,midDom){
 const xDom=[1,1221],maj=[300,600,900,1200],min=[150,450,750,1050];
 const gridM=[Plot.gridX({ticks:min,stroke:GRID2,strokeOpacity:1,strokeWidth:.8}),Plot.gridX({ticks:maj,stroke:GRID,strokeOpacity:1,strokeWidth:1})];
 const axisCol="#444";
 panel([l,topY0,r,topY1],{x:{domain:xDom,axis:null},y:{domain:topDom,axis:null},marks:[...gridM,...topMarks,
  Plot.ruleX([1],{stroke:axisCol,strokeWidth:1.2}),
  Plot.axisY({ticks:topTicks,tickFormat:d=>(d<0?"−":"")+Math.abs(d).toFixed(1),tickSize:2,tickPadding:2,fontSize:9,fill:"#666",label:null})]});
 panel([l,945,r,1034.5],{x:{domain:xDom,axis:null},y:midDom,marks:[...midMarks,Plot.ruleX([1],{stroke:axisCol,strokeWidth:1.2})]});
 const ranked=rankX.map((x,i)=>({x,y:rankMetric[i]}));
 panel([l,1035.7,r,1210.7],{x:{domain:xDom,axis:null},y:{domain:[-9.48,4],axis:null},marks:[...gridM,
  Plot.areaY(ranked,{x:"x",y:"y",y1:()=>0,y2:"y",fill:"#BEBEBE",curve:"linear"}),
  Plot.ruleX([1],{stroke:axisCol,strokeWidth:1.2}),
  Plot.ruleY([-9.48],{stroke:axisCol,strokeWidth:1.6}),
  Plot.axisY({ticks:[0,-5],tickFormat:d=>d<0?"−5":"0",tickSize:2,tickPadding:2,fontSize:9,fill:"#666",label:null}),
  Plot.axisX({ticks:maj,tickFormat:d=>String(d),tickSize:2,tickPadding:2,fontSize:9.5,fill:"#666",label:null})]});
 page.push(T(l,666,title,{fontSize:14,k:.71}));
 page.push(T(ylabX,810,"Running Enrichment Score",{fontSize:11.5,fontFamily:SANS,textAnchor:"middle",rotate:-90}));
 page.push(T(ylabX,1122.6,"Ranked List Metric",{fontSize:11.5,fontFamily:SANS,textAnchor:"middle",rotate:-90}));
 page.push(T(xlabX,1231.5,"Rank in Ordered Dataset",{fontSize:12.5,textAnchor:"middle",k:.67}));
}
(function(){
 const curves=[curveRed,curveOlive,curveGreen,curveBlue,curvePurple];
 const hits=[hitsRed,hitsOlive,hitsGreen,hitsBlue,hitsPurple];
 const order=[4,2,3,1,0];
 const top=curves.map((c,i)=>Plot.line(c,{x:d=>d[0],y:d=>d[1],stroke:gseaColors[i],strokeWidth:2.4,strokeLinejoin:"miter"}));
 const mid=hits.map((h,i)=>Plot.tickX(h,{x:d=>d,y:()=>gseaNames[i],stroke:gseaColors[i],strokeWidth:1}));
 gseaPanels(2054,2580,2032,"Enriched in control group",2317,679,942,[-.831,.059],[0,-.2,-.4,-.6,-.8],top,mid,{domain:order.map(i=>gseaNames[i]),axis:null,padding:0});
 [682.9,707.3,731.7,756,780.6].forEach((y,i)=>{page.push(Plot.ruleY([y],{x1:2381,x2:2394.5,stroke:gseaColors[i],strokeWidth:2.6}),T(2400,y,gseaNames[i],{fontSize:9,fill:"#333",k:.66}));});
})();
(function(){
 const bands=jBandColors.map((c,i)=>({a:jBandEnds[i],b:jBandEnds[i+1],c}));
 const mid=[
  Plot.rect(bands,{x1:"a",x2:"b",y1:()=>0,y2:()=>1,fill:"c"}),
  Plot.ruleX(hitsJ,{x:d=>d,y1:()=>1,y2:()=>3.49,stroke:"#222",strokeWidth:1.2}),
  Plot.ruleX(hitsJ,{x:d=>d,y1:()=>0,y2:()=>1,stroke:"#222",strokeWidth:1.2,strokeOpacity:.22})];
 gseaPanels(2663,3238,2643,"Enriched in treat group",2950.5,680,942,[-.087,.788],[0,.2,.4,.6],[Plot.line(curveJ,{x:d=>d[0],y:d=>d[1],stroke:"#00EE00",strokeWidth:2.6,strokeLinejoin:"miter"})],mid,{domain:[0,3.49],axis:null});
})();

// ---------- PANEL LETTERS + PAGE PLOT ----------
[["A",41,29],["B",684,29],["C",1300,29],["D",1998,29],["E",2641,29],["F",26,677],["G",682,677],["H",1332,677],["I",1998,677],["J",2620,652]].forEach(([t,x,y])=>page.push(T(x,y,t,{fontSize:50,fontWeight:"bold",fontFamily:SANS,fill:"#000"})));
root.append(Plot.plot({width:W,height:H,margin:0,x:{domain:[0,W],range:[0,W],axis:null},y:{domain:[0,H],range:[0,H],axis:null},color:{type:"identity"},r:{type:"identity"},style:{background:"transparent",fontFamily:N(.8)},marks:page}));
root.querySelectorAll("text").forEach(t=>{const m=getComputedStyle(t).fontFamily.match(/k(\d+)/);if(m)t.setAttribute("transform",(t.getAttribute("transform")||"")+` scale(${+m[1]/100},1)`);});
</script></body></html>
